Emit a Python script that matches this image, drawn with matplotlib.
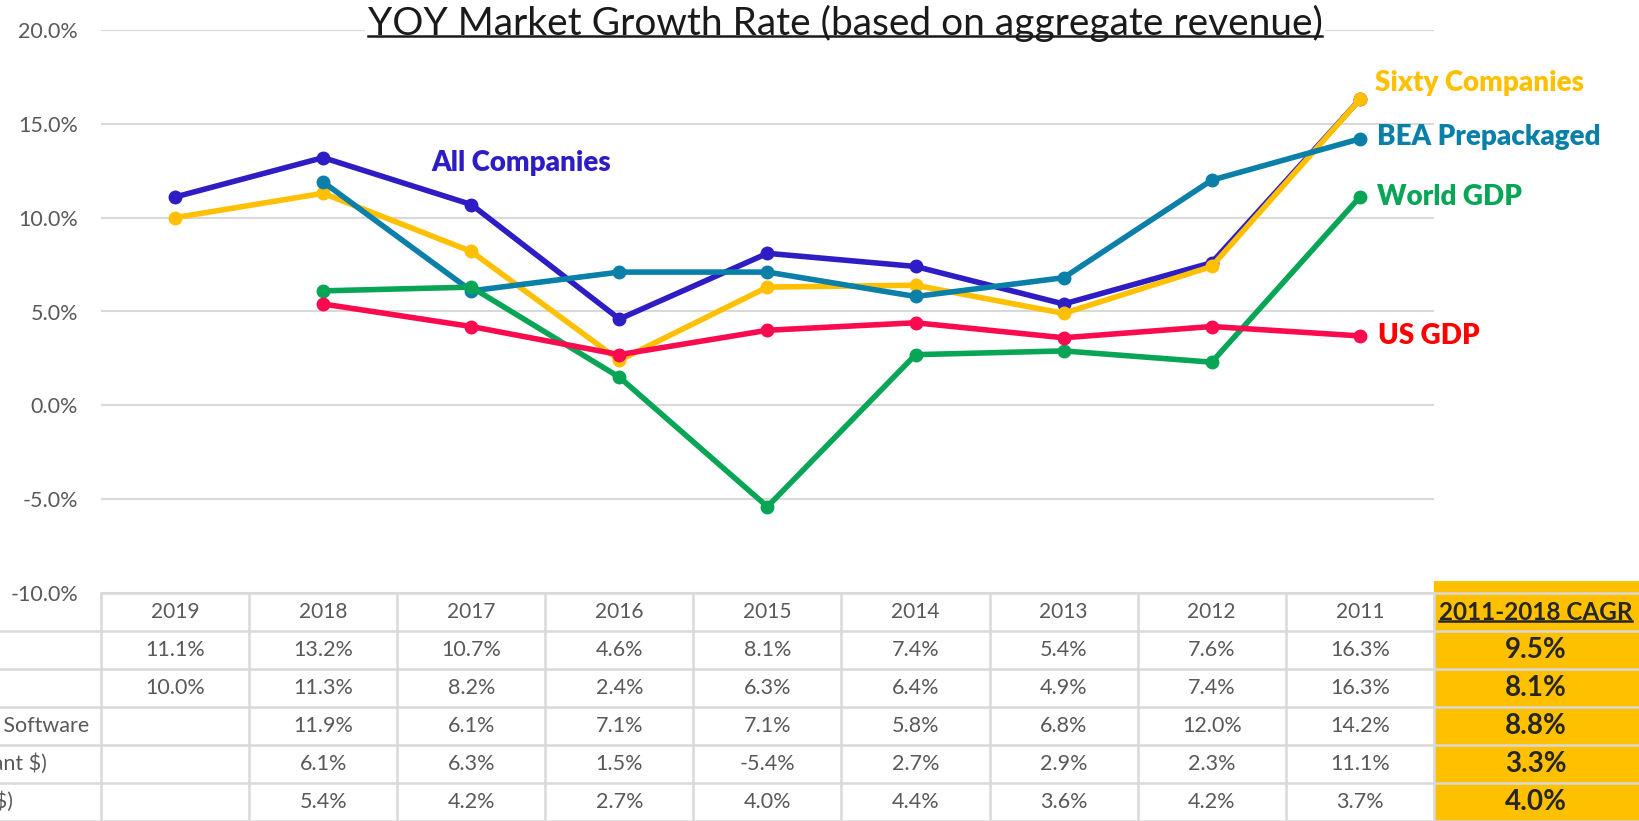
import numpy as np
import matplotlib.pyplot as plt
from matplotlib.patches import Rectangle
from matplotlib.lines import Line2D

years = ['2019', '2018', '2017', '2016', '2015', '2014', '2013', '2012', '2011']
all_cos = [11.1, 13.2, 10.7, 4.6, 8.1, 7.4, 5.4, 7.6, 16.3]
sixty = [10.0, 11.3, 8.2, 2.4, 6.3, 6.4, 4.9, 7.4, 16.3]
bea = [np.nan, 11.9, 6.1, 7.1, 7.1, 5.8, 6.8, 12.0, 14.2]
world_gdp = [np.nan, 6.1, 6.3, 1.5, -5.4, 2.7, 2.9, 2.3, 11.1]
us_gdp = [np.nan, 5.4, 4.2, 2.7, 4.0, 4.4, 3.6, 4.2, 3.7]
cagr = [9.5, 8.1, 8.8, 3.3, 4.0]
row_names = ['All Companies', 'Sixty Companies', 'BEA Prepackaged Software',
             'World GDP (constant $)', 'US GDP (current $)']

c_all = '#2E1CC4'
c_sixty = '#FFC000'
c_bea = '#0A7FA8'
c_world = '#08A557'
c_us = '#FA0A4E'
grid_c = '#D9D9D9'
txt_c = '#595959'

W, H = 1639, 821
fig = plt.figure(figsize=(W / 100, H / 100), dpi=100)

# pixel layout of the excel crop
x0, colw = 101, 148.1
ytop, ybot = 30, 593

ax = fig.add_axes([x0 / W, 1 - ybot / H, 9 * colw / W, (ybot - ytop) / H])
x = np.arange(len(years))
series = [(all_cos, c_all), (sixty, c_sixty), (bea, c_bea), (world_gdp, c_world), (us_gdp, c_us)]
for vals, col in series:
    ax.plot(x, vals, color=col, lw=4, marker='o', ms=9, zorder=3)

ax.set_xlim(-0.5, 8.5)
ax.set_ylim(-10, 20)
ax.set_yticks(np.arange(-10, 21, 5))
ax.set_yticklabels(['%.1f%%' % v for v in np.arange(-10, 21, 5)],
                   fontsize=15.5, color=txt_c, family='Lato')
ax.set_xticks([])
ax.tick_params(axis='y', length=0, pad=16.5)
ax.grid(axis='y', color=grid_c, lw=1.5)
for s in ax.spines.values():
    s.set_visible(False)

lab = dict(fontsize=20, fontweight='heavy', family='Lato')
ax.text(2.34, 12.9, 'All Companies', color=c_all, ha='center', va='center', **lab)
ax.annotate('Sixty Companies', (8, sixty[-1]), xytext=(11, 12), textcoords='offset points',
            color=c_sixty, va='center', **lab)
ax.annotate('BEA Prepackaged', (8, bea[-1]), xytext=(12, 1), textcoords='offset points',
            color=c_bea, va='center', **lab)
ax.annotate('World GDP', (8, world_gdp[-1]), xytext=(12, 0), textcoords='offset points',
            color=c_world, va='center', **lab)
ax.annotate('US GDP', (8, us_gdp[-1]), xytext=(13, 0), textcoords='offset points',
            color='#FF0000', va='center', **lab)

title = fig.text(845 / W, 1 - 23 / H, 'YOY Market Growth Rate (based on aggregate revenue)',
                 ha='center', va='center', fontsize=28, family='Lato', color='#1a1a1a',
                 bbox=dict(facecolor='white', edgecolor='none', pad=2), zorder=5)

# table below the chart
tx = fig.add_axes([0, 0, 1, 1 - (ybot - 12) / H])
tx.set_xlim(-0.5 - x0 / colw, -0.5 + (W - x0) / colw)
tx.set_ylim(6, -0.32)
tx.axis('off')

cagr_x0 = 8.5
tx.add_patch(Rectangle((cagr_x0, -0.32), 3, 6.4, color=c_sixty, zorder=0))
for r in range(7):
    xs = -0.5 if r == 0 else -2
    tx.plot([xs, 12], [r, r], color=grid_c, lw=1.8, zorder=1, solid_capstyle='butt')
for c in range(10):
    tx.plot([c - 0.5, c - 0.5], [0, 6], color=grid_c, lw=1.8, zorder=1)

for i, yr in enumerate(years):
    tx.text(i, 0.5, yr, ha='center', va='center', fontsize=15, color=txt_c, family='Lato')
rows = [all_cos, sixty, bea, world_gdp, us_gdp]
for r, vals in enumerate(rows):
    for i, v in enumerate(vals):
        if not np.isnan(v):
            tx.text(i, r + 1.5, '%.1f%%' % v, ha='center', va='center',
                    fontsize=15.5, color=txt_c, family='Lato')
    tx.text(9.19, r + 1.5, '%.1f%%' % cagr[r], ha='center', va='center',
            fontsize=20, fontweight='bold', color='#262626', family='Lato')

# clipped row labels on the left
ends = {2: 89, 3: 47, 4: 13}
for r, xe in ends.items():
    tx.text(-0.5 - (x0 - xe) / colw, r + 1.5, row_names[r], ha='right', va='center',
            fontsize=15.5, color=txt_c, family='Lato')

hdr = tx.text(8.5 + 5 / colw, 0.5, '2011-2018 CAGR', ha='left', va='center', fontsize=17.5,
              fontweight='bold', color='#262626', family='Lato')

# underline title and header
fig.canvas.draw()
r = fig.canvas.get_renderer()
for t, off in [(title, 6), (hdr, 3)]:
    bb = t.get_window_extent(r)
    yl = (bb.y0 + off) / (H)
    fig.add_artist(Line2D([bb.x0 / W, bb.x1 / W], [yl, yl], color=t.get_color(),
                          lw=1.8, zorder=6))

fig.savefig('out.png', dpi=100)
